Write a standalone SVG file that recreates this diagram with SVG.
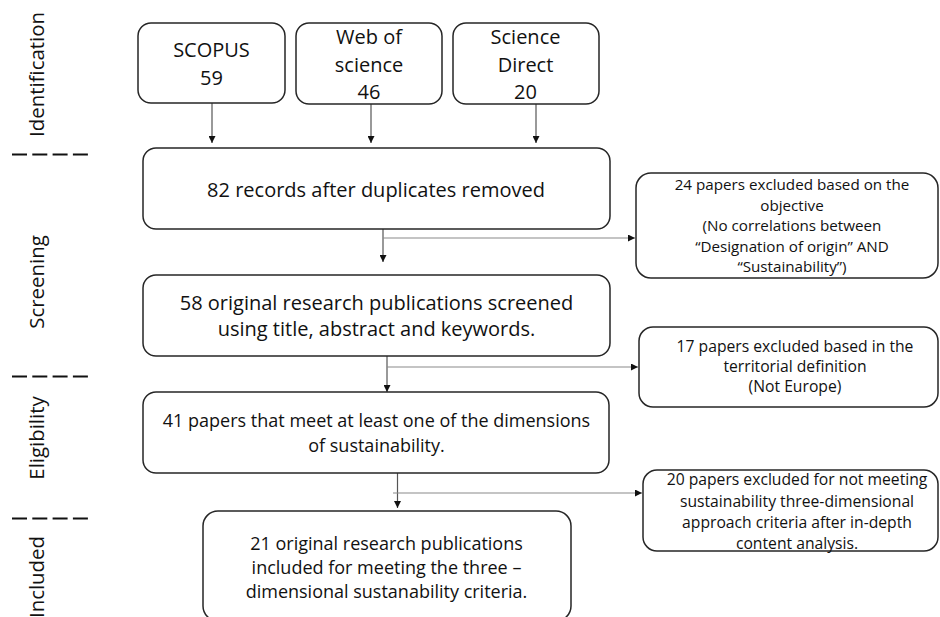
<svg xmlns="http://www.w3.org/2000/svg" width="940" height="617" viewBox="0 0 940 617">
<defs>
<style>
.box{fill:#fff;stroke:#262626;stroke-width:1.5}
.t{font-family:"Open Sans","Noto Sans","Liberation Sans",sans-serif;fill:#111;text-anchor:middle}
.f20{font-size:20px}
.f18{font-size:18px}
.f16{font-size:15.7px}
.f15{font-size:15.2px}
.lbl{font-family:"Open Sans","Noto Sans","Liberation Sans",sans-serif;font-size:20.4px;fill:#111;text-anchor:middle}
.v{stroke:#555;stroke-width:1.2;fill:none}
.h{stroke:#8a8a8a;stroke-width:1.2;fill:none}
.dash{stroke:#111;stroke-width:2;stroke-dasharray:15 5.3;fill:none}
</style>
<marker id="ah" markerWidth="7" markerHeight="7" refX="7" refY="3.5" orient="auto" markerUnits="userSpaceOnUse"><path d="M0,0L7,3.5L0,7z" fill="#111"/></marker>
</defs>
<rect width="940" height="617" fill="#fff"/>

<g id="phases">
<text class="lbl" transform="translate(44,74.5) rotate(-90)">Identification</text>
<text class="lbl" transform="translate(44,282) rotate(-90)">Screening</text>
<text class="lbl" transform="translate(44,438) rotate(-90)">Eligibility</text>
<text class="lbl" transform="translate(44,577) rotate(-90)">Included</text>
<path class="dash" d="M12,154.5H88"/>
<path class="dash" d="M12,376.5H88"/>
<path class="dash" d="M12,518.5H88"/>
</g>

<g id="connectors">
<path class="v" d="M212,103V143" marker-end="url(#ah)"/>
<path class="v" d="M371,104V143" marker-end="url(#ah)"/>
<path class="v" d="M536,104V143" marker-end="url(#ah)"/>
<path class="v" d="M383,229V262" marker-end="url(#ah)"/>
<path class="h" d="M383,238H635" marker-end="url(#ah)"/>
<path class="v" d="M387,356V392" marker-end="url(#ah)"/>
<path class="h" d="M387,367H638" marker-end="url(#ah)"/>
<path class="v" d="M397.5,473V508" marker-end="url(#ah)"/>
<path class="h" d="M393,493H642" marker-end="url(#ah)"/>
</g>

<g id="scopus">
<rect class="box" x="138" y="23" width="147" height="80" rx="13"/>
<text class="t f20" x="211.5" y="57">SCOPUS</text>
<text class="t f20" x="211.5" y="85">59</text>
</g>

<g id="wos">
<rect class="box" x="296" y="23" width="146" height="81" rx="13"/>
<text class="t f20" x="369" y="44">Web of</text>
<text class="t f20" x="369" y="72">science</text>
<text class="t f20" x="369" y="99">46</text>
</g>

<g id="sciencedirect">
<rect class="box" x="453" y="23" width="146" height="81" rx="13"/>
<text class="t f20" x="525.5" y="44">Science</text>
<text class="t f20" x="525.5" y="72">Direct</text>
<text class="t f20" x="525.5" y="99">20</text>
</g>

<g id="records82">
<rect class="box" x="143" y="148" width="467" height="81" rx="13"/>
<text class="t f20" x="376" y="197">82 records after duplicates removed</text>
</g>

<g id="excluded24">
<rect class="box" x="636" y="173" width="302" height="105" rx="15"/>
<text class="t f15" x="792" y="190">24 papers excluded based on the</text>
<text class="t f15" x="792" y="210.5">objective</text>
<text class="t f15" x="792" y="231">(No correlations between</text>
<text class="t f15" x="792" y="251.5">“Designation of origin” AND</text>
<text class="t f15" x="792" y="272">“Sustainability”)</text>
</g>

<g id="screened58">
<rect class="box" x="143" y="275" width="467" height="81" rx="13"/>
<text class="t f20" x="376.5" y="310">58 original research publications screened</text>
<text class="t f20" x="376.5" y="336">using title, abstract and keywords.</text>
</g>

<g id="excluded17">
<rect class="box" x="639" y="327" width="299" height="80" rx="14"/>
<text class="t f16" x="795" y="352">17 papers excluded based in the</text>
<text class="t f16" x="795" y="372">territorial definition</text>
<text class="t f16" x="795" y="392">(Not Europe)</text>
</g>

<g id="eligible41">
<rect class="box" x="143" y="392" width="466" height="81" rx="13"/>
<text class="t f18" x="376.5" y="427">41 papers that meet at least one of the dimensions</text>
<text class="t f18" x="376.5" y="452">of sustainability.</text>
</g>

<g id="excluded20">
<rect class="box" x="643" y="470" width="295" height="81" rx="14"/>
<text class="t f16" x="797" y="485">20 papers excluded for not meeting</text>
<text class="t f16" x="797" y="507">sustainability three-dimensional</text>
<text class="t f16" x="797" y="528">approach criteria after in-depth</text>
<text class="t f16" x="797" y="549">content analysis.</text>
</g>

<g id="included21">
<rect class="box" x="203" y="511" width="368" height="110" rx="15"/>
<text class="t f18" x="386.5" y="550">21 original research publications</text>
<text class="t f18" x="386.5" y="574">included for meeting the three –</text>
<text class="t f18" x="386.5" y="598">dimensional sustanability criteria.</text>
</g>
</svg>
